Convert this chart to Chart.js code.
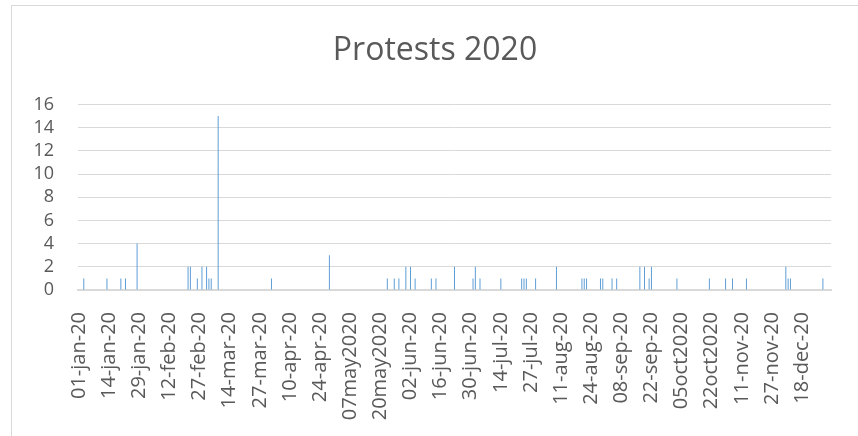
<!DOCTYPE html>
<html>
  <head>
    <script src="https://cdn.jsdelivr.net/npm/chart.js@4/dist/chart.umd.min.js"></script>
    <style>
      body { margin: 0; background: #fff; }
    </style>
  </head>

  <body>
    <div style="width: 858px; height: 436px; position: relative">
      <canvas id="canvas"></canvas>
    </div>
    <script>
      // one tick label every 13 categories
      const tickLabels = ['01-jan-20', '14-jan-20', '29-jan-20', '12-feb-20', '27-feb-20', '14-mar-20', '27-mar-20',
        '10-apr-20', '24-apr-20', '07may2020', '20may2020', '02-jun-20', '16-jun-20', '30-jun-20', '14-jul-20',
        '27-jul-20', '11-aug-20', '24-aug-20', '08-sep-20', '22-sep-20', '05oct2020', '22oct2020', '11-nov-20',
        '27-nov-20', '18-dec-20'];
      const labelEvery = 13;
      const dayCount = 325;

      // category index of each day with protests, and the count
      const eventDay = [2, 12, 18, 20, 25, 47, 48, 51, 53, 55, 56, 57, 60, 83, 108, 133, 136, 138, 141, 143,
        145, 152, 154, 162, 170, 171, 173, 182, 191, 192, 193, 197, 206, 217, 218, 219, 225, 226, 230, 232,
        242, 244, 246, 247, 258, 272, 279, 282, 288, 305, 306, 307, 321];
      const eventCount = [1, 1, 1, 1, 4, 2, 2, 1, 2, 2, 1, 1, 15, 1, 3, 1, 1, 1, 2, 2,
        1, 1, 1, 2, 1, 2, 1, 1, 1, 1, 1, 1, 2, 1, 1, 1, 1, 1, 1, 1,
        2, 2, 1, 2, 1, 1, 1, 1, 1, 2, 1, 1, 1];

      const labels = [];
      const values = [];
      for (let i = 0; i < dayCount; i++) {
        labels.push(i % labelEvery === 0 ? tickLabels[i / labelEvery] : '');
        values.push(null);
      }
      eventDay.forEach((d, i) => { values[d] = eventCount[i]; });

      const frame = {
        id: 'frame',
        beforeDraw(chart) {
          const ctx = chart.ctx;
          ctx.save();
          ctx.fillStyle = '#fff';
          ctx.fillRect(0, 0, chart.width, chart.height);
          ctx.strokeStyle = '#D9D9D9';
          ctx.lineWidth = 1;
          ctx.strokeRect(11.5, 5.5, 900, 500);
          ctx.restore();
        },
      };

      const grey = '#595959';
      const font = 'Open Sans';

      new Chart(document.getElementById('canvas').getContext('2d'), {
        type: 'bar',
        data: {
          labels: labels,
          datasets: [
            {
              data: values,
              backgroundColor: '#5B9BD5',
              barPercentage: 0.42,
              categoryPercentage: 1,
            },
          ],
        },
        options: {
          responsive: true,
          maintainAspectRatio: false,
          animation: false,
          layout: { padding: { left: 12, right: 0 } },
          plugins: {
            legend: { display: false },
            tooltip: { enabled: false },
            title: {
              display: true,
              text: 'Protests 2020',
              color: grey,
              font: { family: font, size: 32, weight: 'normal', lineHeight: 1.2 },
              padding: { top: 32, bottom: 34 },
            },
          },
          scales: {
            x: {
              grid: { display: false, drawTicks: false },
              border: { color: '#D9D9D9', width: 2 },
              ticks: {
                autoSkip: false,
                minRotation: 90,
                maxRotation: 90,
                color: grey,
                padding: 22,
                font: { family: font, size: 20 },
              },
              afterFit: (s) => {
                s.height = 146;
                s.paddingLeft = 0;
                s.paddingRight = 0;
              },
            },
            y: {
              min: 0,
              max: 16,
              grid: { color: '#D9D9D9', drawTicks: false },
              border: { display: false },
              ticks: {
                stepSize: 2,
                autoSkip: false,
                color: grey,
                padding: 24,
                font: { family: font, size: 18 },
              },
              afterFit: (s) => {
                s.width = 66;
                s.paddingTop = 0;
                s.paddingBottom = 0;
              },
            },
            // empty margin on the right side of the plot
            right: {
              position: 'right',
              min: 0,
              max: 16,
              grid: { display: false },
              border: { display: false },
              ticks: { display: false },
              afterFit: (s) => {
                s.width = 27;
                s.paddingTop = 0;
                s.paddingBottom = 0;
              },
            },
          },
        },
        plugins: [frame],
      });
    </script>
  </body>
</html>
